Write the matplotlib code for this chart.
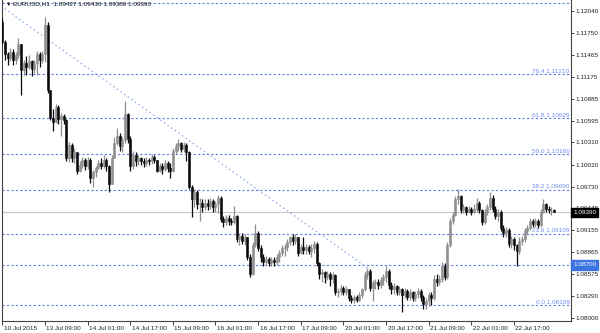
import matplotlib
matplotlib.use("Agg")
import matplotlib.pyplot as plt
import matplotlib.transforms as mtransforms
import numpy as np

plt.rcParams["font.family"] = ["Liberation Sans", "DejaVu Sans"]

# EURUSD H1, one value per hourly bar, first bar = 10 Jul 2015 17:00
first_open = 1.1190
closes = [
    1.1163, 1.1148, 1.1142, 1.1150, 1.1140, 1.1146, 1.1160, 1.1126,
    1.1136, 1.1130, 1.1138, 1.1128, 1.1136, 1.1148, 1.1140, 1.1148,
    1.1186, 1.1100, 1.1063, 1.1058, 1.1078, 1.1062, 1.1066, 1.1060,
    1.1010, 1.1028, 1.1010, 1.1018, 1.0994, 1.1002, 1.1008, 1.1000,
    1.1008, 1.0984, 1.0992, 1.0998, 1.1004, 1.1000, 1.1008, 1.1000,
    1.0976, 1.1010, 1.1030, 1.1040, 1.1026, 1.1034, 1.1068, 1.1036,
    1.1000, 1.1014, 1.1006, 1.1010, 1.1006, 1.1004, 1.1008, 1.1006,
    1.1012, 1.1008, 1.0994, 1.1000, 1.0996, 1.1004, 1.0998, 1.0994,
    1.1020, 1.1026, 1.1030, 1.1022, 1.1028, 1.1018, 1.0972, 1.0956,
    1.0966, 1.0950, 1.0952, 1.0946, 1.0952, 1.0948, 1.0954, 1.0946,
    1.0950, 1.0958, 1.0930, 1.0926, 1.0932, 1.0928, 1.0926, 1.0934,
    1.0904, 1.0908, 1.0902, 1.0906, 1.0880, 1.0858, 1.0896, 1.0912,
    1.0892, 1.0880, 1.0874, 1.0878, 1.0872, 1.0876, 1.0874, 1.0880,
    1.0886, 1.0892, 1.0894, 1.0900, 1.0906, 1.0902, 1.0906, 1.0886,
    1.0894, 1.0890, 1.0894, 1.0888, 1.0892, 1.0898, 1.0872, 1.0858,
    1.0860, 1.0854, 1.0858, 1.0852, 1.0856, 1.0834, 1.0836, 1.0840,
    1.0834, 1.0838, 1.0826, 1.0824, 1.0828, 1.0824, 1.0830, 1.0838,
    1.0856, 1.0862, 1.0840, 1.0846, 1.0848, 1.0844, 1.0850, 1.0854,
    1.0862, 1.0844, 1.0838, 1.0842, 1.0834, 1.0838, 1.0830, 1.0836,
    1.0828, 1.0834, 1.0826, 1.0832, 1.0836, 1.0828, 1.0818, 1.0822,
    1.0830, 1.0826, 1.0852, 1.0848, 1.0852, 1.0868, 1.0854, 1.0896,
    1.0928, 1.0936, 1.0956, 1.0960, 1.0942, 1.0946, 1.0940, 1.0944,
    1.0940, 1.0944, 1.0952, 1.0942, 1.0926, 1.0940, 1.0946, 1.0958,
    1.0944, 1.0934, 1.0940, 1.0918, 1.0912, 1.0916, 1.0898, 1.0904,
    1.0896, 1.0888, 1.0902, 1.0904, 1.0914, 1.0918, 1.0928, 1.0924,
    1.0928, 1.0922, 1.0940, 1.0950, 1.0944, 1.0942, 1.09427, 1.09390,
]
highs = [
    1.1195, 1.1166, 1.1150, 1.1155, 1.1154, 1.1150, 1.1168, 1.1160,
    1.1140, 1.1145, 1.1146, 1.1140, 1.1140, 1.1152, 1.1150, 1.1152,
    1.1196, 1.1190, 1.1100, 1.1075, 1.1082, 1.1080, 1.1070, 1.1068,
    1.1062, 1.1032, 1.1030, 1.1024, 1.1016, 1.1006, 1.1012, 1.1010,
    1.1012, 1.1010, 1.0995, 1.1000, 1.1008, 1.1010, 1.1014, 1.1010,
    1.1002, 1.1014, 1.1038, 1.1050, 1.1044, 1.1038, 1.1085, 1.1070,
    1.1040, 1.1020, 1.1018, 1.1014, 1.1012, 1.1010, 1.1012, 1.1011,
    1.1016, 1.1014, 1.1008, 1.1004, 1.1004, 1.1008, 1.1006, 1.1004,
    1.1024, 1.1030, 1.1035, 1.1032, 1.1032, 1.1030, 1.1020, 1.0975,
    1.0970, 1.0968, 1.0958, 1.0956, 1.0956, 1.0956, 1.0958, 1.0956,
    1.0954, 1.0962, 1.0960, 1.0934, 1.0936, 1.0936, 1.0932, 1.0948,
    1.0936, 1.0912, 1.0912, 1.0910, 1.0906, 1.0884, 1.0900, 1.0924,
    1.0914, 1.0896, 1.0884, 1.0882, 1.0880, 1.0880, 1.0880, 1.0884,
    1.0890, 1.0896, 1.0898, 1.0904, 1.0908, 1.0910, 1.0910, 1.0906,
    1.0898, 1.0906, 1.0898, 1.0896, 1.0898, 1.0902, 1.0900, 1.0874,
    1.0864, 1.0862, 1.0862, 1.0860, 1.0860, 1.0858, 1.0840, 1.0844,
    1.0842, 1.0842, 1.0838, 1.0830, 1.0830, 1.0830, 1.0834, 1.0840,
    1.0860, 1.0866, 1.0864, 1.0850, 1.0852, 1.0852, 1.0854, 1.0858,
    1.0868, 1.0864, 1.0848, 1.0846, 1.0844, 1.0842, 1.0840, 1.0840,
    1.0838, 1.0838, 1.0836, 1.0836, 1.0840, 1.0838, 1.0830, 1.0826,
    1.0834, 1.0834, 1.0856, 1.0858, 1.0856, 1.0874, 1.0872, 1.0900,
    1.0932, 1.0940, 1.0960, 1.0970, 1.0962, 1.0950, 1.0948, 1.0948,
    1.0946, 1.0950, 1.0958, 1.0954, 1.0944, 1.0944, 1.0950, 1.0966,
    1.0962, 1.0948, 1.0944, 1.0942, 1.0922, 1.0920, 1.0918, 1.0908,
    1.0906, 1.0898, 1.0906, 1.0908, 1.0918, 1.0922, 1.0932, 1.0930,
    1.0932, 1.0930, 1.0944, 1.0956, 1.0952, 1.0948, 1.0946, 1.09436,
]
lows = [
    1.1160, 1.1140, 1.1133, 1.1138, 1.1133, 1.1134, 1.1142, 1.1093,
    1.1120, 1.1120, 1.1128, 1.1118, 1.1122, 1.1120, 1.1130, 1.1136,
    1.1137, 1.1096, 1.1060, 1.1046, 1.1056, 1.1055, 1.1040, 1.1055,
    1.1006, 1.1005, 1.1005, 1.1004, 1.0990, 1.0992, 1.0998, 1.0995,
    1.0996, 1.0978, 1.0972, 1.0986, 1.0996, 1.0996, 1.0998, 1.0994,
    1.0966, 1.0976, 1.1010, 1.1028, 1.1020, 1.1018, 1.1030, 1.1030,
    1.0994, 1.0996, 1.1000, 1.1002, 1.1002, 1.0999, 1.1000, 1.1001,
    1.1003, 1.1004, 1.0992, 1.0992, 1.0990, 1.0994, 1.0992, 1.0984,
    1.0992, 1.1016, 1.1020, 1.1018, 1.1018, 1.1006, 1.0970, 1.0933,
    1.0946, 1.0944, 1.0928, 1.0940, 1.0942, 1.0942, 1.0944, 1.0940,
    1.0940, 1.0938, 1.0926, 1.0920, 1.0922, 1.0922, 1.0922, 1.0924,
    1.0900, 1.0896, 1.0898, 1.0896, 1.0876, 1.0854, 1.0856, 1.0894,
    1.0888, 1.0874, 1.0868, 1.0870, 1.0868, 1.0868, 1.0868, 1.0870,
    1.0874, 1.0882, 1.0882, 1.0888, 1.0896, 1.0896, 1.0898, 1.0882,
    1.0884, 1.0884, 1.0884, 1.0884, 1.0880, 1.0886, 1.0868, 1.0852,
    1.0848, 1.0846, 1.0850, 1.0842, 1.0846, 1.0830, 1.0828, 1.0830,
    1.0830, 1.0830, 1.0822, 1.0820, 1.0820, 1.0821, 1.0822, 1.0826,
    1.0836, 1.0852, 1.0836, 1.0822, 1.0838, 1.0838, 1.0840, 1.0844,
    1.0848, 1.0838, 1.0832, 1.0832, 1.0830, 1.0830, 1.0808, 1.0826,
    1.0824, 1.0824, 1.0822, 1.0822, 1.0826, 1.0822, 1.0812, 1.0812,
    1.0816, 1.0817, 1.0824, 1.0842, 1.0844, 1.0848, 1.0850, 1.0852,
    1.0894, 1.0924, 1.0934, 1.0950, 1.0938, 1.0938, 1.0936, 1.0938,
    1.0936, 1.0938, 1.0940, 1.0938, 1.0922, 1.0924, 1.0936, 1.0942,
    1.0940, 1.0930, 1.0928, 1.0914, 1.0906, 1.0906, 1.0894, 1.0892,
    1.0890, 1.0868, 1.0884, 1.0896, 1.0900, 1.0910, 1.0916, 1.0920,
    1.0920, 1.0918, 1.0920, 1.0938, 1.0940, 1.0938, 1.0936, 1.09389,
]

price_ticks = [1.12040, 1.11750, 1.11465, 1.11175, 1.10885, 1.10595, 1.10310,
               1.10020, 1.09730, 1.09445, 1.09155, 1.08865, 1.08575, 1.08290,
               1.08000]
time_tick_bars = [0, 16, 32, 48, 64, 80, 96, 112, 128, 144, 160, 176, 192]
time_tick_labels = ["10 Jul 2015", "13 Jul 09:00", "14 Jul 01:00", "14 Jul 17:00",
                    "15 Jul 09:00", "16 Jul 01:00", "16 Jul 17:00", "17 Jul 09:00",
                    "20 Jul 01:00", "20 Jul 17:00", "21 Jul 09:00", "22 Jul 01:00",
                    "22 Jul 17:00"]

fib_pcts = ["100.0", "76.4", "61.8", "50.0", "38.2", "23.6", "0.0"]
fib_levels = [1.12151, 1.11210, 1.10629, 1.10160, 1.09690, 1.09109, 1.08169]
hline_level = 1.08700
last_price = 1.09390
trend_bars = [0.9, 137.0]
trend_prices = [1.1207, 1.0866]

title = "EURUSD,H1  1.09427 1.09436 1.09389 1.09390"

bull_color = "#8e8e8e"
bear_color = "#0a0a0a"
fib_color = "#5a7de8"
fib_text = "#6f8ff2"
axis_col = "#444444"
fs = 4.6

fig = plt.figure(figsize=(6, 3.33), dpi=100)
ax = fig.add_axes([2 / 600, 12 / 333, 569 / 600, 321 / 333])

c = np.array(closes)
o = np.array([first_open] + closes[:-1])
idx = np.arange(len(c))
cols = np.where(c >= o, bull_color, bear_color)

ax.axhline(last_price, color="#c6c6c6", lw=0.8, zorder=1)
ax.vlines(idx, lows, highs, colors=cols, lw=0.9, zorder=3)
ax.bar(idx, np.abs(c - o), bottom=np.minimum(c, o), width=0.75,
       color=cols, edgecolor=cols, linewidth=0.4, zorder=4)

# fibo levels + horizontal line
edge = mtransforms.blended_transform_factory(ax.transAxes, ax.transData)
for pct, lvl in zip(fib_pcts, fib_levels):
    ax.axhline(lvl, color=fib_color, lw=0.8, ls=(0, (2, 2)), zorder=2)
    if pct != "100.0":
        ax.text(1 - 1.5 / 569, lvl + 0.00004, f"{pct} {lvl:.5f}", transform=edge,
                ha="right", va="bottom", fontsize=fs, color=fib_text, zorder=5)
ax.axhline(hline_level, color=fib_color, lw=0.8, ls=(0, (2, 2)), zorder=2)
ax.plot(trend_bars, trend_prices, color="#8da6ef", lw=0.8, ls=(0, (1.5, 2.5)), zorder=2)

ax.set_xlim(-0.113, 213.4)
ax.set_ylim(1.07961, 1.12185)

ax.yaxis.tick_right()
ax.set_yticks(price_ticks)
ax.set_yticklabels([f"{v:.5f}" for v in price_ticks])
ax.tick_params(axis="y", direction="out", length=2.5, width=0.6, pad=1,
               labelsize=fs, colors="#222222")

ax.set_xticks(time_tick_bars)
ax.set_xticklabels(time_tick_labels)
ax.tick_params(axis="x", direction="out", length=3, width=0.6, pad=0.3,
               labelsize=fs, colors="#222222")
shift = mtransforms.ScaledTranslation(1.5 / 100, 0, fig.dpi_scale_trans)
for lbl in ax.get_xticklabels():
    lbl.set_ha("left")
    lbl.set_transform(lbl.get_transform() + shift)

for side in ["left", "bottom", "right"]:
    ax.spines[side].set_color(axis_col)
    ax.spines[side].set_linewidth(0.8)
ax.spines["top"].set_visible(False)

# price boxes on the right scale
ax.text(1 + 2 / 569, last_price, f"{last_price:.5f}", transform=edge, ha="left",
        va="center", fontsize=fs, color="white", zorder=6,
        bbox=dict(boxstyle="square,pad=0.35", fc="black", ec="black"))
ax.text(1 + 2 / 569, hline_level, f"{hline_level:.5f}", transform=edge, ha="left",
        va="center", fontsize=fs, color="white", zorder=6,
        bbox=dict(boxstyle="square,pad=0.35", fc="#3b74e0", ec="#3b74e0"))

ax.text(0.006, 0.993, "\u25bc", transform=ax.transAxes, ha="left", va="top",
        fontsize=4, color="#111111")
ax.text(0.019, 0.995, title, transform=ax.transAxes, ha="left", va="top",
        fontsize=fs, color="#111111")

fig.savefig("out.png", dpi=100)
